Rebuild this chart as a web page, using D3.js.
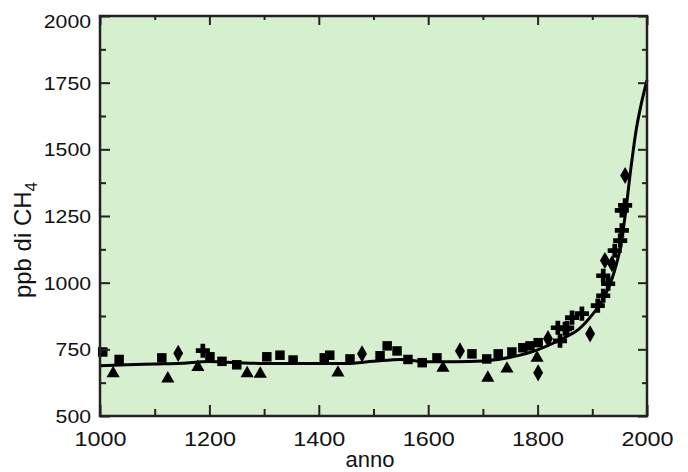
<!DOCTYPE html>
<meta charset="utf-8">
<script src="https://d3js.org/d3.v7.min.js"></script>
<style>
  body { margin: 0; background: #fff; }
  text { font-family: "Liberation Sans", Arial, sans-serif; fill: #111; }
</style>
<div id="chart"></div>
<script>

// smoothed record (fitted curve)
var curveYears  = [1000, 1050, 1100, 1150, 1200, 1250, 1300, 1350, 1400, 1450, 1500, 1550, 1600, 1650, 1700, 1750, 1800, 1825, 1850, 1875, 1900, 1920, 1940, 1950, 1960, 1970, 1980, 1990, 2000];
var curveValues = [688, 692, 695, 698, 704, 700, 697, 697, 697, 697, 705, 712, 703, 703, 706, 720, 748, 770, 795, 825, 880, 940, 1040, 1120, 1250, 1420, 1570, 1675, 1760];

// ice core measurements, one list per marker type: [year, ppb]
var squares = [[1005, 740], [1035, 712], [1113, 718], [1201, 722], [1223, 705], [1250, 692], [1305, 722], [1329, 728], [1353, 710], [1410, 718], [1420, 728], [1457, 714], [1512, 726], [1525, 763], [1543, 744], [1563, 712], [1589, 700], [1616, 718], [1680, 733], [1707, 714], [1728, 733], [1753, 740], [1773, 756], [1786, 763], [1801, 775]];
var triangles = [[1024, 660], [1124, 640], [1179, 683], [1269, 660], [1293, 658], [1435, 662], [1627, 680], [1709, 643], [1744, 677], [1799, 718]];
var diamonds = [[1143, 735], [1479, 733], [1658, 744], [1801, 662], [1819, 790], [1896, 808], [1923, 1083], [1936, 1071], [1960, 1402]];
var crosses = [[1188, 745], [1837, 831], [1841, 782], [1850, 827], [1854, 831], [1863, 869], [1881, 884], [1910, 914], [1920, 951], [1920, 1026], [1929, 996], [1941, 1120], [1951, 1158], [1954, 1196], [1954, 1271], [1960, 1290]];

// ticks
var xMajor = [1000, 1200, 1400, 1600, 1800, 2000];
var xMinor = [1100, 1300, 1500, 1700, 1900];
var yMajor = [500, 750, 1000, 1250, 1500, 1750, 2000];
var yMinor = [625, 875, 1125, 1375, 1625, 1875];

var margin = {top: 16, right: 41, bottom: 56, left: 100},
    width = 688 - margin.left - margin.right,
    height = 472 - margin.top - margin.bottom;

var svg = d3.select("#chart")
  .append("svg")
    .attr("width", 688)
    .attr("height", 472)
  .append("g")
    .attr("transform", "translate(" + margin.left + "," + margin.top + ")");

var x = d3.scaleLinear().domain([1000, 2000]).range([0, width]);
var y = d3.scaleLinear().domain([500, 2000]).range([height, 0]);

// plot background
svg.append("rect")
  .attr("width", width)
  .attr("height", height)
  .attr("fill", "#d6f0cf");

// the fitted curve
var line = d3.line()
  .x(function(d, i) { return x(curveYears[i]); })
  .y(function(d) { return y(d); })
  .curve(d3.curveMonotoneX);

svg.append("path")
  .datum(curveValues)
  .attr("fill", "none")
  .attr("stroke", "#000")
  .attr("stroke-width", 3)
  .attr("d", line);

// markers
function drawMarkers(data, type, size) {
  svg.append("g")
    .selectAll("path")
    .data(data)
    .enter().append("path")
      .attr("transform", function(d) { return "translate(" + x(d[0]) + "," + y(d[1]) + ")"; })
      .attr("d", d3.symbol().type(type).size(size))
      .attr("fill", "#000");
}
drawMarkers(squares, d3.symbolSquare, 90);
drawMarkers(triangles, d3.symbolTriangle, 75);
drawMarkers(diamonds, d3.symbolDiamond, 85);
drawMarkers(crosses, d3.symbolCross, 110);

// axes, ticks pointing inward
function styleAxis(g) {
  g.select(".domain").remove();
  g.selectAll(".tick line").attr("stroke", "#222").attr("stroke-width", 2);
  g.selectAll("text").style("font-size", "21px").attr("fill", "#111");
}

svg.append("g")
  .attr("transform", "translate(0," + height + ")")
  .call(d3.axisBottom(x).tickValues(xMajor).tickSize(-11).tickPadding(15).tickFormat(d3.format("d")))
  .call(styleAxis)
  .selectAll("text")
    .attr("textLength", 52)
    .attr("lengthAdjust", "spacingAndGlyphs");
svg.append("g")
  .attr("transform", "translate(0," + height + ")")
  .call(d3.axisBottom(x).tickValues(xMinor).tickSize(-7).tickFormat(""))
  .call(styleAxis);
svg.append("g")
  .call(d3.axisTop(x).tickValues(xMajor).tickSize(-9).tickFormat(""))
  .call(styleAxis);
svg.append("g")
  .call(d3.axisTop(x).tickValues(xMinor).tickSize(-4).tickFormat(""))
  .call(styleAxis);

svg.append("g")
  .call(d3.axisLeft(y).tickValues(yMajor).tickSize(-10).tickPadding(9).tickFormat(d3.format("d")))
  .call(styleAxis)
  .selectAll("text")
    .style("font-size", "19px")
    .attr("textLength", function(d) { return String(d).length * 11.8; })
    .attr("lengthAdjust", "spacingAndGlyphs")
    .attr("dy", function(d) { return d === 2000 ? "0.6em" : "0.34em"; });
svg.append("g")
  .call(d3.axisLeft(y).tickValues(yMinor).tickSize(-6).tickFormat(""))
  .call(styleAxis);
svg.append("g")
  .attr("transform", "translate(" + width + ",0)")
  .call(d3.axisRight(y).tickValues(yMajor).tickSize(-9).tickFormat(""))
  .call(styleAxis);
svg.append("g")
  .attr("transform", "translate(" + width + ",0)")
  .call(d3.axisRight(y).tickValues(yMinor).tickSize(-5).tickFormat(""))
  .call(styleAxis);

// frame
svg.append("rect")
  .attr("width", width)
  .attr("height", height)
  .attr("fill", "none")
  .attr("stroke", "#222")
  .attr("stroke-width", 2.5);

// axis titles
svg.append("text")
  .attr("x", 370 - margin.left)
  .attr("y", 467 - margin.top)
  .attr("text-anchor", "middle")
  .style("font-size", "22px")
  .text("anno");

var yl = svg.append("text")
  .attr("transform", "translate(" + (31 - margin.left) + "," + (240 - margin.top) + ") rotate(-90)")
  .attr("text-anchor", "middle")
  .style("font-size", "24px");
yl.append("tspan").text("ppb di CH");
yl.append("tspan").attr("dy", 6).style("font-size", "17px").text("4");

</script>
